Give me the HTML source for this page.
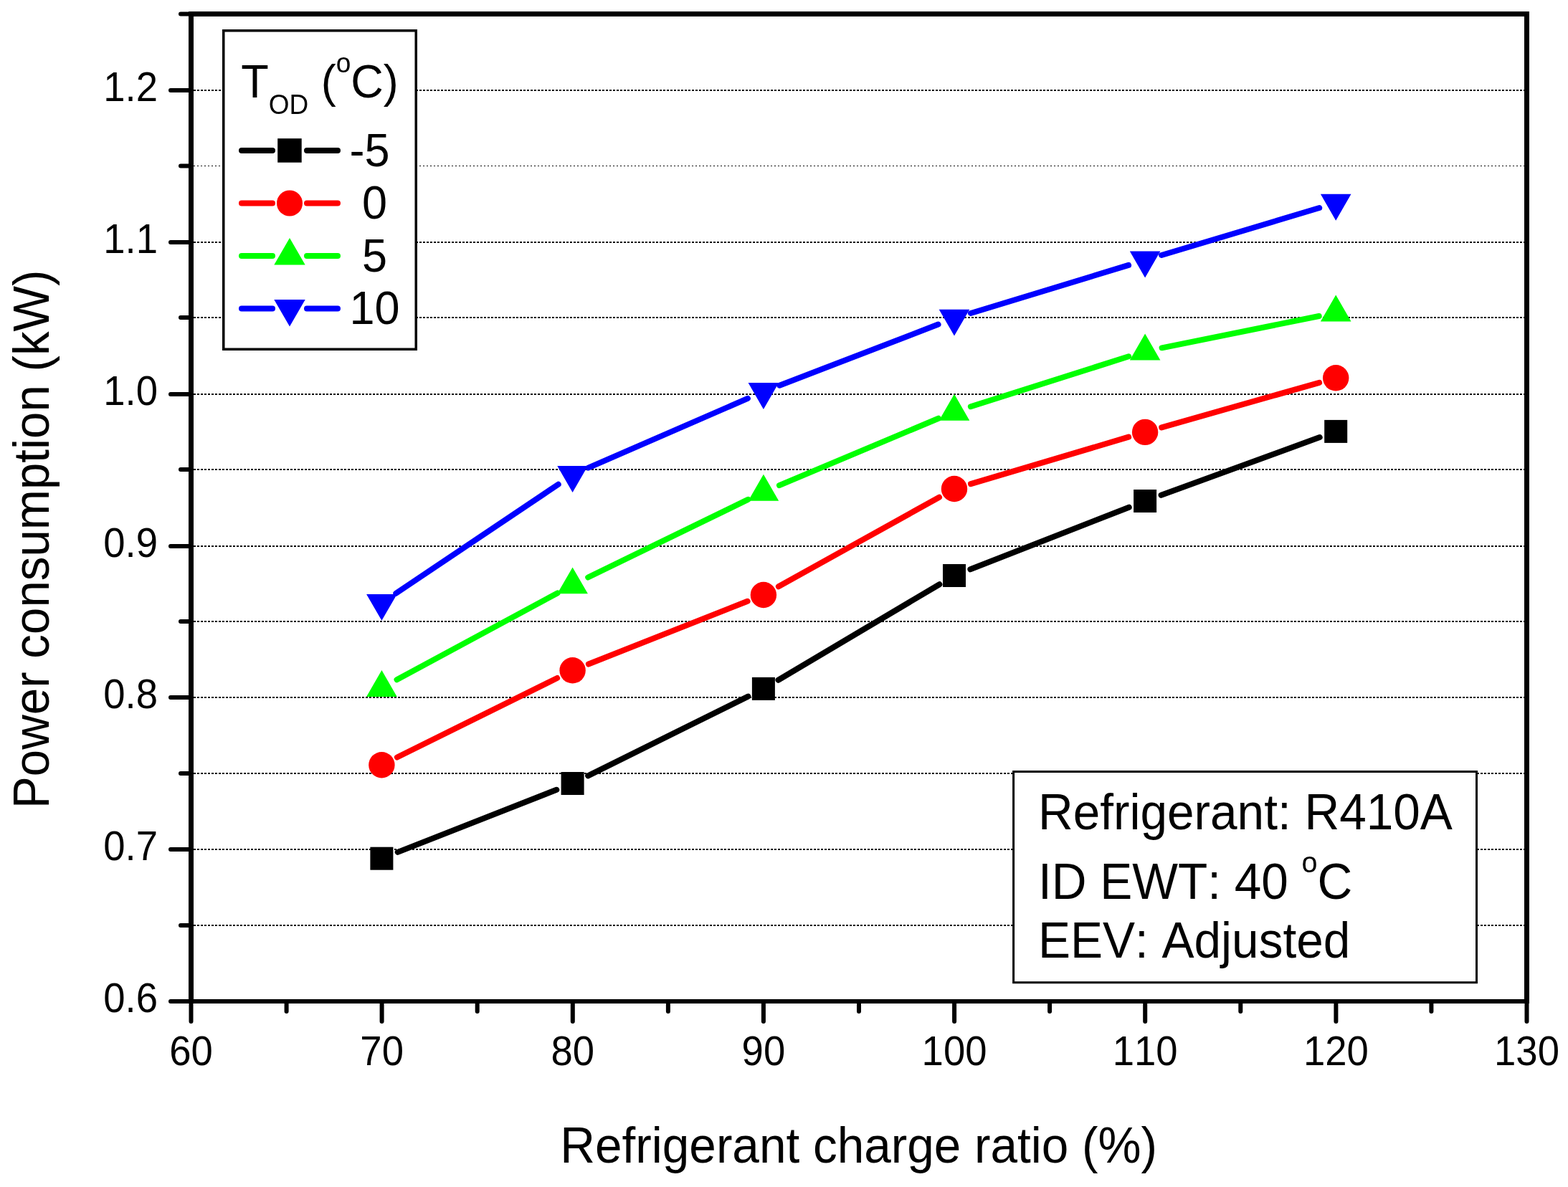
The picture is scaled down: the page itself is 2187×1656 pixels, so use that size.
<!DOCTYPE html>
<html><head><meta charset="utf-8"><title>Power consumption vs refrigerant charge ratio</title>
<style>html,body{margin:0;padding:0;background:#fff;}body{width:2187px;height:1656px;overflow:hidden;}svg{display:block;}text{font-family:"Liberation Sans",Arial,sans-serif;fill:#000;font-kerning:none;}</style>
</head><body>
<svg width="2187" height="1656" viewBox="0 0 2187 1656">
<rect x="0" y="0" width="2187" height="1656" fill="#fff"/>
<path d="M270 1291H2126M270 1185H2126M270 1079H2126M270 973H2126M270 867H2126M270 762H2126M270 655H2126M270 550H2126M270 443H2126M270 338H2126M270 126H2126" stroke="#000" stroke-width="2" stroke-dasharray="3 2" fill="none" shape-rendering="crispEdges"/>
<path d="M270 231.5H2126" stroke="#000" stroke-width="1" stroke-dasharray="2 3" fill="none" shape-rendering="crispEdges"/>
<path d="M554.7 1188.9L776.3 1101.8M820.1 1082.3L1043.4 971.6M1085.5 948.7L1310.4 815.2M1353.4 794.3L1574.7 707.7M1619.6 690.8L1840.7 610.1" stroke="#000000" stroke-width="8.0" stroke-linecap="round" fill="none"/>
<path d="M553.9 1056.5L777.1 946.0M820.9 926.5L1042.6 838.8M1085.9 818.3L1310.0 693.7M1354.0 675.2L1574.1 609.7M1620.2 596.3L1840.1 533.9" stroke="#FF0000" stroke-width="8.0" stroke-linecap="round" fill="none"/>
<path d="M553.5 948.2L777.5 827.4M820.2 805.5L1043.3 696.9M1087.0 677.1L1308.9 583.7M1353.9 567.2L1574.2 497.3M1620.6 485.3L1839.7 441.0" stroke="#00FF00" stroke-width="8.0" stroke-linecap="round" fill="none"/>
<path d="M552.3 827.8L778.7 675.7M820.6 652.7L1042.9 555.9M1087.3 537.7L1308.6 452.6M1354.0 437.0L1574.1 369.9M1620.1 356.0L1840.2 290.0" stroke="#0000FF" stroke-width="8.0" stroke-linecap="round" fill="none"/>
<rect x="516.4" y="1181.7" width="32.0" height="32.0" fill="#000000"/>
<circle cx="532.4" cy="1067.2" r="18.2" fill="#FF0000"/>
<path d="M532.4 935.0L553.7 971.9L511.1 971.9Z" fill="#00FF00"/>
<path d="M532.4 865.8L553.7 828.9L511.1 828.9Z" fill="#0000FF"/>
<rect x="782.6" y="1077.0" width="32.0" height="32.0" fill="#000000"/>
<circle cx="798.6" cy="935.3" r="18.2" fill="#FF0000"/>
<path d="M798.6 791.4L819.9 828.3L777.3 828.3Z" fill="#00FF00"/>
<path d="M798.6 686.9L819.9 650.0L777.3 650.0Z" fill="#0000FF"/>
<rect x="1048.9" y="944.9" width="32.0" height="32.0" fill="#000000"/>
<circle cx="1064.9" cy="830.0" r="18.2" fill="#FF0000"/>
<path d="M1064.9 661.8L1086.2 698.7L1043.6 698.7Z" fill="#00FF00"/>
<path d="M1064.9 570.9L1086.2 534.0L1043.6 534.0Z" fill="#0000FF"/>
<rect x="1315.0" y="787.0" width="32.0" height="32.0" fill="#000000"/>
<circle cx="1331.0" cy="682.0" r="18.2" fill="#FF0000"/>
<path d="M1331.0 549.8L1352.3 586.7L1309.7 586.7Z" fill="#00FF00"/>
<path d="M1331.0 468.6L1352.3 431.7L1309.7 431.7Z" fill="#0000FF"/>
<rect x="1581.1" y="683.0" width="32.0" height="32.0" fill="#000000"/>
<circle cx="1597.1" cy="602.9" r="18.2" fill="#FF0000"/>
<path d="M1597.1 465.5L1618.4 502.4L1575.8 502.4Z" fill="#00FF00"/>
<path d="M1597.1 387.5L1618.4 350.6L1575.8 350.6Z" fill="#0000FF"/>
<rect x="1847.2" y="585.9" width="32.0" height="32.0" fill="#000000"/>
<circle cx="1863.2" cy="527.3" r="18.2" fill="#FF0000"/>
<path d="M1863.2 411.6L1884.5 448.5L1841.9 448.5Z" fill="#00FF00"/>
<path d="M1863.2 307.7L1884.5 270.8L1841.9 270.8Z" fill="#0000FF"/>
<rect x="263" y="16" width="7" height="1384" fill="#000"/>
<rect x="2126" y="16" width="7" height="1384" fill="#000"/>
<rect x="263" y="16" width="1870" height="7" fill="#000"/>
<rect x="263" y="1394" width="1870" height="6" fill="#000"/>
<path d="M238 1397.0H266M252 1291.0H266M238 1185.0H266M252 1079.0H266M238 973.0H266M252 867.0H266M238 762.0H266M252 655.0H266M238 550.0H266M252 443.0H266M238 338.0H266M252 231.5H266M238 126.0H266M252 19.5H266M266.5 1397V1425M399.6 1397V1411M532.6 1397V1425M665.7 1397V1411M798.8 1397V1425M931.9 1397V1411M1064.9 1397V1425M1198.0 1397V1411M1331.1 1397V1425M1464.1 1397V1411M1597.2 1397V1425M1730.3 1397V1411M1863.4 1397V1425M1996.4 1397V1411M2129.5 1397V1425" stroke="#000" stroke-width="6" stroke-linecap="round" fill="none"/>
<text transform="translate(220.00 1412.30) scale(1 1.040)" font-size="54.5" text-anchor="end">0.6</text>
<text transform="translate(220.00 1200.38) scale(1 1.040)" font-size="54.5" text-anchor="end">0.7</text>
<text transform="translate(220.00 988.45) scale(1 1.040)" font-size="54.5" text-anchor="end">0.8</text>
<text transform="translate(220.00 776.53) scale(1 1.040)" font-size="54.5" text-anchor="end">0.9</text>
<text transform="translate(220.00 564.61) scale(1 1.040)" font-size="54.5" text-anchor="end">1.0</text>
<text transform="translate(220.00 352.68) scale(1 1.040)" font-size="54.5" text-anchor="end">1.1</text>
<text transform="translate(220.00 140.76) scale(1 1.040)" font-size="54.5" text-anchor="end">1.2</text>
<text transform="translate(266.50 1485.50) scale(1 1.040)" font-size="54.5" text-anchor="middle">60</text>
<text transform="translate(532.64 1485.50) scale(1 1.040)" font-size="54.5" text-anchor="middle">70</text>
<text transform="translate(798.79 1485.50) scale(1 1.040)" font-size="54.5" text-anchor="middle">80</text>
<text transform="translate(1064.93 1485.50) scale(1 1.040)" font-size="54.5" text-anchor="middle">90</text>
<text transform="translate(1331.07 1485.50) scale(1 1.040)" font-size="54.5" text-anchor="middle">100</text>
<text transform="translate(1597.21 1485.50) scale(1 1.040)" font-size="54.5" text-anchor="middle">110</text>
<text transform="translate(1863.36 1485.50) scale(1 1.040)" font-size="54.5" text-anchor="middle">120</text>
<text transform="translate(2129.50 1485.50) scale(1 1.040)" font-size="54.5" text-anchor="middle">130</text>
<text transform="translate(1197.70 1622.00) scale(1 1.040)" font-size="67.5" text-anchor="middle">Refrigerant charge ratio (%)</text>
<text transform="translate(68.00 752.30) rotate(-90) scale(1 1.040)" font-size="67.3" text-anchor="middle">Power consumption (kW)</text>
<rect x="311.75" y="42.75" width="268.5" height="444.5" fill="#fff" stroke="#000" stroke-width="3.5"/>
<text transform="translate(336.30 136.00) scale(1 1.040)" font-size="63">T<tspan font-size="37" dy="22.12">OD</tspan><tspan dy="-22.12"> (</tspan><tspan font-size="37" dy="-33.37">o</tspan><tspan dy="33.37">C)</tspan></text>
<path d="M337 210.0H380M428 210.0H471" stroke="#000000" stroke-width="8.0" stroke-linecap="round" fill="none"/>
<rect x="387.2" y="193.2" width="33.5" height="33.5" fill="#000000"/>
<text transform="translate(487.50 231.50) scale(1 1.040)" font-size="63">-5</text>
<path d="M337 283.5H380M428 283.5H471" stroke="#FF0000" stroke-width="8.0" stroke-linecap="round" fill="none"/>
<circle cx="404.0" cy="283.5" r="18.0" fill="#FF0000"/>
<text transform="translate(505.00 305.00) scale(1 1.040)" font-size="63">0</text>
<path d="M337 357.0H380M428 357.0H471" stroke="#00FF00" stroke-width="8.0" stroke-linecap="round" fill="none"/>
<path d="M404.0 332.0L425.7 369.5L382.3 369.5Z" fill="#00FF00"/>
<text transform="translate(505.00 378.50) scale(1 1.040)" font-size="63">5</text>
<path d="M337 430.5H380M428 430.5H471" stroke="#0000FF" stroke-width="8.0" stroke-linecap="round" fill="none"/>
<path d="M404.0 455.5L425.7 418.0L382.3 418.0Z" fill="#0000FF"/>
<text transform="translate(487.50 452.00) scale(1 1.040)" font-size="63">10</text>
<rect x="1413.6" y="1076.5" width="645.9" height="294.2" fill="#fff" stroke="#000" stroke-width="3"/>
<text transform="translate(1448.00 1156.70) scale(1 1.040)" font-size="67.5">Refrigerant: R410A</text>
<text transform="translate(1448.00 1253.90) scale(1 1.040)" font-size="67.5">ID EWT: 40 <tspan font-size="39.5" dy="-35.96">o</tspan><tspan dy="35.96">C</tspan></text>
<text transform="translate(1448.00 1335.50) scale(1 1.040)" font-size="67.5">EEV: Adjusted</text>
</svg>
</body></html>
